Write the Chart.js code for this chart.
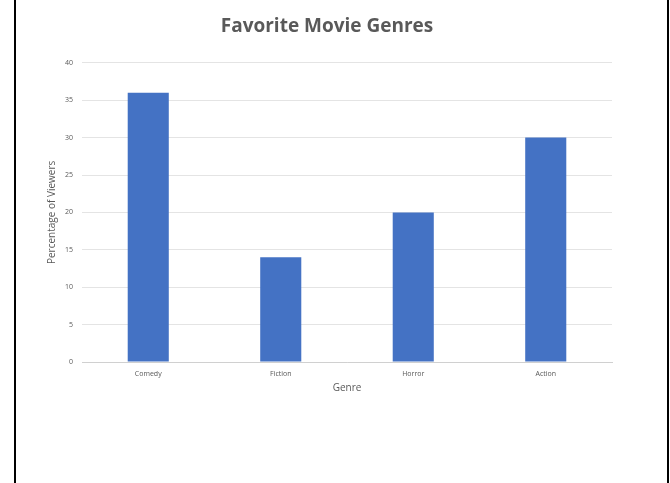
<!DOCTYPE html>
<html>
<head>
<meta charset="utf-8">
<script src="https://cdn.jsdelivr.net/npm/chart.js@4"></script>
<style>
  html, body { margin: 0; padding: 0; background: #fff; }
  #wrap { position: relative; width: 670px; height: 483px; overflow: hidden; }
  #frameL { position: absolute; left: 14px; top: 0; width: 2px; height: 483px; background: #000; }
  #frameR { position: absolute; left: 667px; top: 0; width: 2px; height: 483px; background: #000; }
  canvas { position: absolute; left: 0; top: 0; }
</style>
</head>
<body>
<div id="wrap">
  <canvas id="chart" width="670" height="483"></canvas>
  <div id="frameL"></div>
  <div id="frameR"></div>
</div>
<script>
// Survey results: share of viewers naming each genre as their favourite
const genres = ['Comedy', 'Fiction', 'Horror', 'Action'];
const viewerPercent = [36, 14, 20, 30];
const yTicks = [0, 5, 10, 15, 20, 25, 30, 35, 40];

const FONT = "'Open Sans', 'Noto Sans', sans-serif";
const GREY = '#595959';

new Chart(document.getElementById('chart'), {
  type: 'bar',
  data: {
    labels: genres,
    datasets: [{
      data: viewerPercent,
      backgroundColor: '#4472C4',
      borderWidth: 0,
      categoryPercentage: 1,
      barPercentage: 0.31
    }]
  },
  options: {
    responsive: false,
    animation: false,
    layout: { padding: { left: 42, right: 58, top: 15, bottom: 89 } },
    plugins: {
      legend: { display: false },
      tooltip: { enabled: false },
      title: {
        display: true,
        text: 'Favorite Movie Genres',
        color: GREY,
        font: { family: FONT, size: 19, weight: 'bold' },
        padding: { top: 0, bottom: 25 }
      }
    },
    scales: {
      x: {
        grid: { display: false, drawTicks: false },
        border: { display: true, color: '#d0d0d0', width: 1 },
        ticks: { color: GREY, font: { family: FONT, size: 7 }, padding: 8 },
        title: {
          display: true, text: 'Genre', color: GREY,
          font: { family: FONT, size: 10 }, padding: { top: 3, bottom: 0 }
        },
        afterFit: s => { s.height = 32; }
      },
      y: {
        min: 0, max: 40,
        afterBuildTicks: s => { s.ticks = yTicks.map(v => ({ value: v })); },
        grid: { color: '#e4e4e4', drawTicks: false },
        border: { display: false },
        ticks: { color: GREY, font: { family: FONT, size: 7 }, padding: 9 },
        title: {
          display: true, text: 'Percentage of Viewers', color: GREY,
          font: { family: FONT, size: 10 }, padding: { top: 4, bottom: 0 }
        },
        afterFit: s => { s.width = 40; }
      }
    }
  }
});
</script>
</body>
</html>
